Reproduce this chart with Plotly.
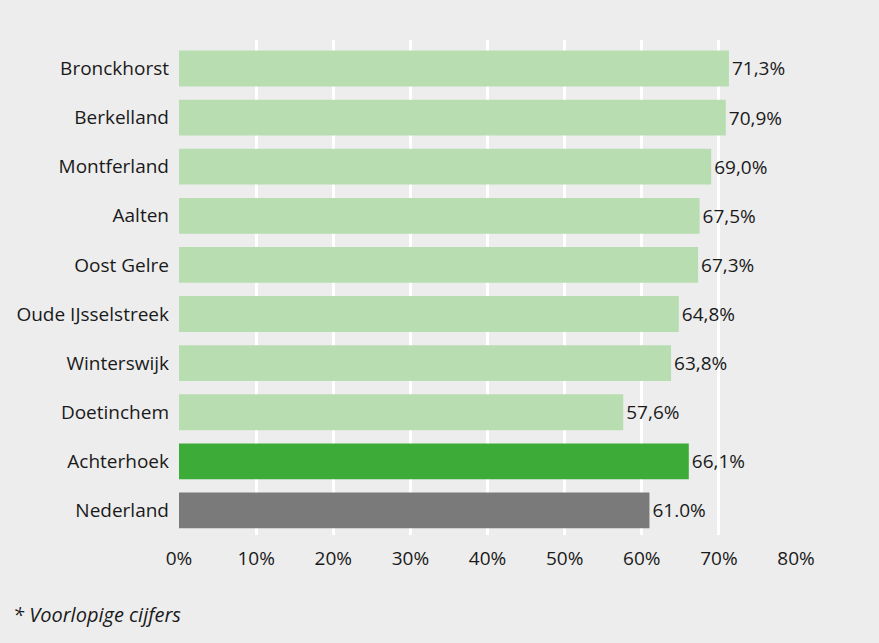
import plotly.graph_objects as go

categories = ["Bronckhorst", "Berkelland", "Montferland", "Aalten", "Oost Gelre",
              "Oude IJsselstreek", "Winterswijk", "Doetinchem", "Achterhoek", "Nederland"]
values = [71.3, 70.9, 69.0, 67.5, 67.3, 64.8, 63.8, 57.6, 66.1, 61.0]
labels = ["71,3%", "70,9%", "69,0%", "67,5%", "67,3%", "64,8%", "63,8%", "57,6%", "66,1%", "61.0%"]
colors = ["#b7ddb1"] * 8 + ["#3dab38", "#7a7a7a"]
tick_vals = [0, 10, 20, 30, 40, 50, 60, 70, 80]
tick_text = ["0%", "10%", "20%", "30%", "40%", "50%", "60%", "70%", "80%"]
footnote = "* Voorlopige cijfers"

FONT = "Open Sans"
FS = 19
fig = go.Figure(go.Bar(
    y=categories, x=values, orientation="h",
    marker=dict(color=colors, line=dict(width=0)),
    text=labels, textposition="outside", cliponaxis=False,
    textfont=dict(size=FS, color="#1a1a1a", family=FONT),
    width=0.73, hoverinfo="skip",
))

fig.update_layout(
    width=879, height=643,
    paper_bgcolor="#ededed", plot_bgcolor="#ededed",
    margin=dict(l=179, r=83, t=40, b=108),
    font=dict(family=FONT, size=FS, color="#1a1a1a"),
    showlegend=False,
    xaxis=dict(range=[0, 80], tickvals=tick_vals, ticktext=tick_text,
               showgrid=True, gridcolor="#ffffff", gridwidth=3,
               zeroline=False, showline=False, ticks="",
               ticklabelstandoff=10, tickfont=dict(size=FS)),
    yaxis=dict(range=[9.5, -0.58], showgrid=False, zeroline=False,
               ticks="", ticklabelstandoff=9, tickfont=dict(size=FS)),
    annotations=[dict(text="<i>" + footnote + "</i>", xref="paper", yref="paper",
                      x=-168 / 617, y=-(614 - 535) / 495, xanchor="left", yanchor="middle",
                      showarrow=False, font=dict(size=20, color="#1a1a1a"))],
)

fig.write_html("out.html", config={"displayModeBar": False},
               post_script="document.body.style.margin='0';document.body.style.background='#ededed';")
